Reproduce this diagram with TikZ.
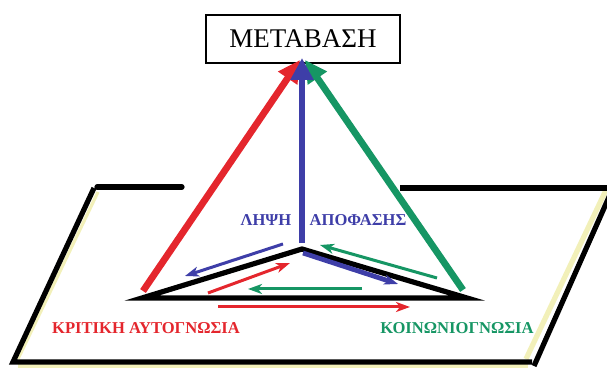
\documentclass[tikz,border=0pt]{standalone}
\usepackage{fontspec}
\setmainfont{Liberation Serif}
\usetikzlibrary{arrows.meta}
\definecolor{myred}{RGB}{228,38,45}
\definecolor{mygreen}{RGB}{22,150,100}
\definecolor{myblue}{RGB}{62,62,168}
\definecolor{myyellow}{RGB}{242,240,185}
\tikzset{
  edge/.style={line width=2.6pt, black},
  shade/.style={line width=1.6pt, myyellow},
  bigarrow/.style={line width=3.4pt, -{Triangle[length=11pt,width=11pt]}},
  smallarrow/.style={line width=1.5pt, -{Stealth[length=7pt,width=5pt,inset=2pt]}},
  lbl/.style={inner sep=0pt, font=\fontsize{8.3}{9}\selectfont\bfseries},
}
\begin{document}
\begin{tikzpicture}[x=0.5pt,y=-0.5pt]
\useasboundingbox (0,0) rectangle (607,368);
\clip (0,0) rectangle (607,368);
% plane
\coordinate (TL) at (94,188);
\coordinate (TR) at (613,188);
\coordinate (BR) at (532,362);
\coordinate (BL) at (13,362);
\draw[shade] (98,192) -- (18,359);
\draw[shade] (18,366) -- (528,366);
\draw[myyellow, line width=2.6pt] (606,190) -- (526,359);
\draw[edge, line cap=round] (97,187) -- (182,187);
\draw[edge] (400,188) -- (TR);
\draw[edge] (TL) -- (BL) -- (BR);
\draw[edge] (TR) -- (534,366);
% box
\node[draw, line width=1pt, minimum width=97pt, minimum height=24pt, inner sep=0pt,
      font=\fontsize{13.5}{16}\selectfont] (box) at (303,39) {ΜΕΤΑΒΑΣΗ};
% pyramid
\coordinate (L) at (142,298);
\coordinate (R) at (467,298);
\coordinate (B) at (302,249);
\coordinate (Lr) at (143,291);
\coordinate (Rg) at (463,290);
\coordinate (Bb) at (302,243);
\coordinate (tipR) at (300,60);
\coordinate (tipG) at (305,60);
\coordinate (tipB) at (302,58);
\draw[bigarrow, myred] (Lr) -- (tipR);
\draw[bigarrow, mygreen] (Rg) -- (tipG);
\draw[bigarrow, myblue] (Bb) -- (tipB);
\draw[edge, line join=miter] (L) -- (B) -- (R) -- cycle;
% small arrows
\coordinate (a1s) at (283,244); \coordinate (a1e) at (185,276);
\coordinate (a2s) at (208,293); \coordinate (a2e) at (290,263);
\coordinate (a3s) at (437,278); \coordinate (a3e) at (320,245);
\coordinate (a4s) at (303,253); \coordinate (a4e) at (398,284);
\coordinate (a5s) at (362,289); \coordinate (a5e) at (248,289);
\coordinate (a6s) at (218,307); \coordinate (a6e) at (410,307);
\draw[smallarrow, myblue] (a1s) -- (a1e);
\draw[smallarrow, myred] (a2s) -- (a2e);
\draw[smallarrow, mygreen] (a3s) -- (a3e);
\draw[smallarrow, myblue, line width=2.4pt] (a4s) -- (a4e);
\draw[smallarrow, mygreen] (a5s) -- (a5e);
\draw[smallarrow, myred] (a6s) -- (a6e);
% labels
\node[lbl, text=myblue] (l1) at (266,220) {ΛΗΨΗ};
\node[lbl, text=myblue] (l2) at (358,220) {ΑΠΟΦΑΣΗΣ};
\node[lbl, text=myred] (l3) at (146,328) {ΚΡΙΤΙΚΗ ΑΥΤΟΓΝΩΣΙΑ};
\node[lbl, text=mygreen] (l4) at (457,328) {ΚΟΙΝΩΝΙΟΓΝΩΣΙΑ};
\end{tikzpicture}
\end{document}
